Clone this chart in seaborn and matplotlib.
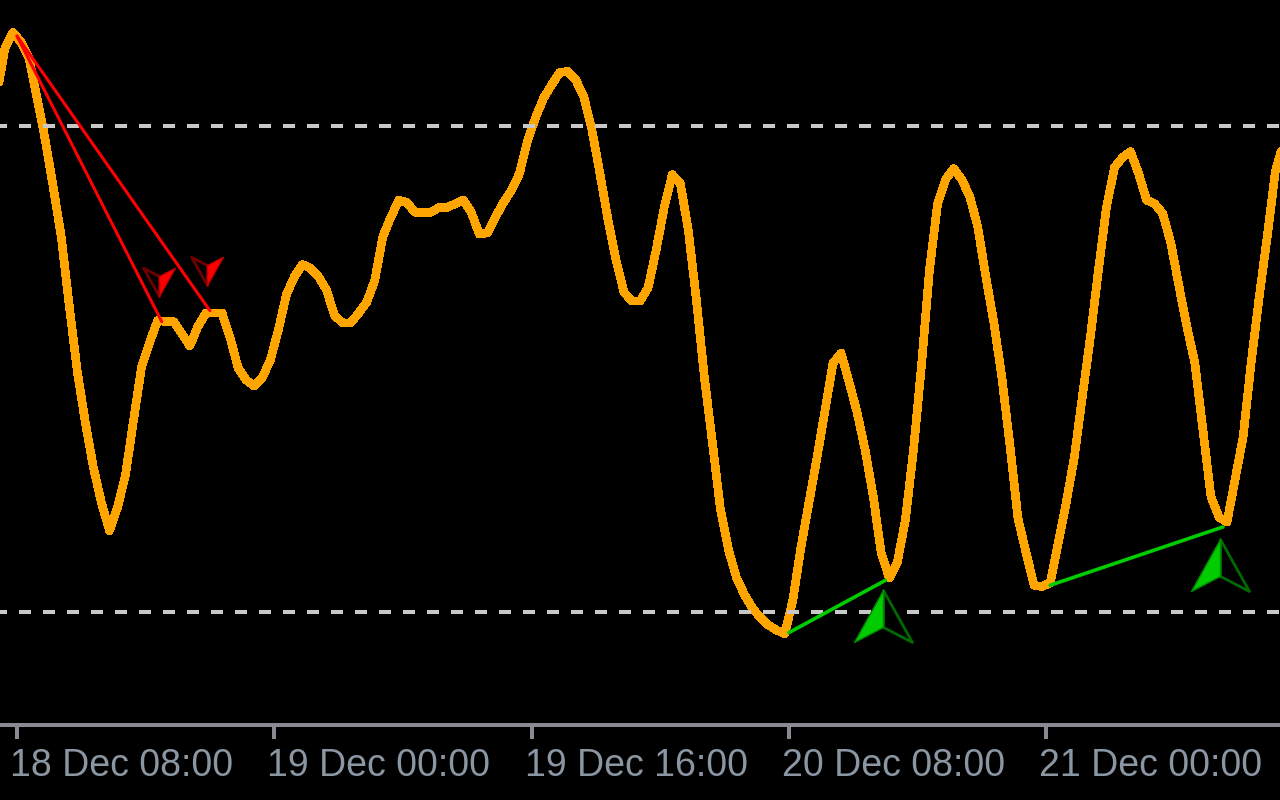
import pandas as pd
import matplotlib
matplotlib.use('Agg')
import matplotlib.pyplot as plt
import seaborn as sns
from matplotlib.path import Path
from matplotlib.markers import MarkerStyle
from matplotlib.transforms import ScaledTranslation, blended_transform_factory

# Oscillator values, one every 30 min, first bar at 18 Dec 06:45
first_bar = '2023-12-18 06:45'
osc_values = [
    72.6, 76.4, 77.7, 76.9, 75.6, 72.3, 68.9, 65.0, 60.9, 55.2,
    49.8, 45.6, 41.9, 39.0, 36.7, 38.6, 41.3, 45.8, 50.2, 52.2,
    54.0, 53.9, 53.9, 52.9, 51.9, 53.5, 54.6, 54.6, 54.6, 52.6,
    50.1, 49.1, 48.6, 49.3, 50.7, 53.2, 56.1, 57.6, 58.6, 58.3,
    57.6,
    56.5, 54.4, 53.8, 53.8, 54.6, 55.5, 57.3, 60.9, 62.5, 63.9,
    63.7, 62.9, 62.9, 62.9, 63.3, 63.3, 63.6, 63.9, 62.9, 61.1,
    61.2, 62.5, 63.7, 64.7, 66.1, 68.8, 70.7, 72.3, 73.4, 74.4,
    74.5, 73.8, 72.4, 69.7, 66.1, 62.3, 59.0, 56.3, 55.6, 55.6,
    56.7, 59.8, 63.3, 66.0, 65.3, 61.4, 55.7, 49.3, 43.9, 38.4,
    35.1, 32.8, 31.4, 30.3, 29.5, 28.9, 28.5, 28.2, 31.0, 35.3,
    39.0, 42.7, 46.6, 50.5, 51.3, 48.9, 46.4, 43.3, 39.5, 34.8,
    32.8, 34.1, 37.6, 43.3, 50.3, 58.2, 63.6, 65.6, 66.5, 65.6,
    64.2, 61.7, 57.6, 53.8, 49.3, 43.7, 37.7, 34.9, 32.2, 32.1,
    32.4, 35.7, 39.0, 42.7, 47.7, 52.6, 58.1, 63.3, 66.6, 67.4,
    67.9, 66.1, 63.9, 63.6, 62.8, 60.4, 56.9, 53.5, 50.5, 45.0,
    39.5, 37.8, 37.4, 40.9, 44.4, 50.5, 55.9, 60.9, 66.2, 68.6,
]
levels = [70, 30]

tick_times = ['2023-12-18 08:00', '2023-12-19 00:00', '2023-12-19 16:00',
              '2023-12-20 08:00', '2023-12-21 00:00']
tick_labels = ['18 Dec 08:00', '19 Dec 00:00', '19 Dec 16:00',
               '20 Dec 08:00', '21 Dec 00:00']

# bearish divergence (red) lines and arrows
bear_line_times = [['2023-12-18 08:00', '2023-12-18 17:00'],
                   ['2023-12-18 08:00', '2023-12-18 20:00']]
bear_line_values = [[77.4, 53.9], [77.4, 54.8]]
bear_arrow_times = ['2023-12-18 16:50', '2023-12-18 19:50']
bear_arrow_values = [57.2, 58.1]

# bullish divergence (green) lines and arrows
bull_line_times = [['2023-12-20 08:00', '2023-12-20 14:00'],
                   ['2023-12-21 00:15', '2023-12-21 11:00']]
bull_line_values = [[28.3, 32.6], [32.2, 37.0]]
bull_arrow_times = ['2023-12-20 13:50', '2023-12-21 10:50']
bull_arrow_values = [29.7, 33.9]

bar_times = pd.date_range(first_bar, periods=len(osc_values), freq='30min')

sns.set_theme(style='dark', rc={'axes.facecolor': 'black', 'figure.facecolor': 'black',
                                'axes.grid': False})
plt.rcParams['font.family'] = ['Liberation Sans', 'DejaVu Sans']

fig = plt.figure(figsize=(12.8, 8), dpi=100)
ax = fig.add_axes([0, 75 / 800, 1, 725 / 800])
ax.set_facecolor('black')

sns.lineplot(x=bar_times, y=osc_values, color='#FFA500', linewidth=5.5,
             estimator=None, antialiased=False, ax=ax, zorder=2)

for lv in levels:
    ax.axhline(lv, color='#c8c8c8', linewidth=2.88, linestyle=(1.25, (3, 3)), zorder=3)

for t, v in zip(bear_line_times, bear_line_values):
    ax.plot(pd.to_datetime(t), v, color='#ff0000', linewidth=2.2, zorder=4)
for t, v in zip(bull_line_times, bull_line_values):
    ax.plot(pd.to_datetime(t), v, color='#00cc00', linewidth=2.6, zorder=4)

# arrow markers: one filled half, one outlined half
w = 1.115
up_left = MarkerStyle(Path([(0, 1), (-w, -1), (0, -0.42), (0, 1)], closed=True))
up_right = MarkerStyle(Path([(0, 1), (0, -0.42), (w, -1), (0, 1)], closed=True))
dn_left = MarkerStyle(Path([(0, -1), (-w, 1), (0, 0.42), (0, -1)], closed=True))
dn_right = MarkerStyle(Path([(0, -1), (0, 0.42), (w, 1), (0, -1)], closed=True))

bt = pd.to_datetime(bull_arrow_times)
ax.scatter(bt, bull_arrow_values, marker=up_right, s=1740, facecolors='black',
           edgecolors='#006a00', linewidths=2, zorder=5)
ax.scatter(bt, bull_arrow_values, marker=up_left, s=1740, facecolors='#00cc00',
           edgecolors='#008a00', linewidths=1, zorder=6)
rt = pd.to_datetime(bear_arrow_times)
ax.scatter(rt, bear_arrow_values, marker=dn_left, s=520, facecolors='black',
           edgecolors='#700000', linewidths=2, zorder=5)
ax.scatter(rt, bear_arrow_values, marker=dn_right, s=520, facecolors='#ff0000',
           edgecolors='#c00000', linewidths=1, zorder=6)

base = pd.Timestamp('2023-12-18 08:00')
ax.set_xlim(base - pd.Timedelta(hours=1.057), base + pd.Timedelta(hours=78.545))
ax.set_ylim(20.70, 80.37)
ax.set_xlabel('')
ax.set_ylabel('')
ax.set_yticks([])

ticks = pd.to_datetime(tick_times)
ax.set_xticks(ticks)
ax.tick_params(axis='x', length=10, width=2.88, color='#8a8a92', direction='out',
               labelbottom=False, bottom=True)
for s in ['top', 'left', 'right']:
    ax.spines[s].set_visible(False)
ax.spines['bottom'].set_color('#8a8a92')
ax.spines['bottom'].set_linewidth(2.88)

trans = blended_transform_factory(ax.transData, fig.transFigure) + \
    ScaledTranslation(-7 / 100, 0, fig.dpi_scale_trans)
for t, lab in zip(ticks, tick_labels):
    ax.text(t, 24 / 800, lab, transform=trans, ha='left', va='baseline',
            fontsize=27, color='#8a96a2', clip_on=False)

fig.savefig('out.png', dpi=100, facecolor='black')
